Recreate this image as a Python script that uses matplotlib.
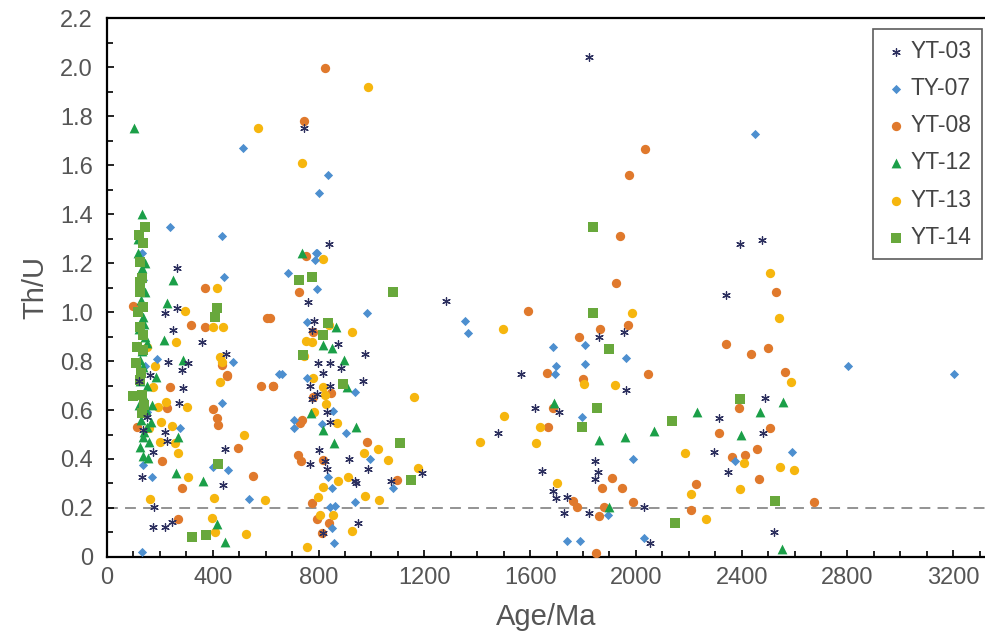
import numpy as np
import matplotlib
matplotlib.use("Agg")
import matplotlib.pyplot as plt
from matplotlib.ticker import MultipleLocator, FuncFormatter

plt.rcParams['font.family'] = ['Liberation Sans', 'DejaVu Sans']

# sample data: (age Ma, Th/U)
yt03_age = [1822, 1282, 1956, 1862, 1963, 1566, 1620, 1711, 1480, 1644, 1846, 1856, 1846, 1688, 1698,
            1739, 1729, 1821, 2031, 2054, 2489, 2316, 2480, 2294, 2350, 2524, 2395, 2477, 2342,
            759, 784, 774, 873, 976, 797, 844, 815, 885, 967, 768, 844, 793, 777, 831, 844, 803,
            768, 825, 831, 916, 986, 938, 942, 1073, 1190, 951, 815, 746, 841,
            264, 219, 264, 248, 358, 230, 283, 308, 450, 163, 122, 286, 273, 150, 135, 219, 226,
            173, 446, 131, 440, 179, 175, 219, 245]
yt03_thu = [2.04, 1.046, 0.92, 0.90, 0.68, 0.745, 0.61, 0.59, 0.505, 0.35, 0.39, 0.345, 0.317, 0.27, 0.24,
            0.246, 0.18, 0.18, 0.205, 0.056, 0.65, 0.566, 0.505, 0.43, 0.348, 0.10, 1.276, 1.294, 1.07,
            1.04, 0.965, 0.927, 0.87, 0.83, 0.79, 0.79, 0.75, 0.77, 0.72, 0.70, 0.70, 0.665, 0.645, 0.59, 0.55, 0.437,
            0.378, 0.39, 0.36, 0.40, 0.36, 0.31, 0.30, 0.31, 0.344, 0.137, 0.097, 1.75, 1.278,
            1.18, 0.995, 1.015, 0.927, 0.876, 0.797, 0.763, 0.793, 0.827, 0.743, 0.718, 0.69, 0.63, 0.573, 0.52, 0.51, 0.475,
            0.43, 0.44, 0.325, 0.294, 0.203, 0.121, 0.121, 0.144]

ty07_age = [2451, 514, 3204, 2803, 2591, 835, 802, 436, 238, 791, 444, 131, 188, 476, 131, 651, 434, 150,
            276, 135, 169, 457, 402, 538, 131, 684, 793, 787, 793, 985, 758, 661, 758, 938, 856, 707, 707,
            812, 903, 995, 837, 850, 1081, 938, 862, 844, 850, 860, 1354, 1367, 1686, 1699, 1695, 1806,
            1809, 1963, 1796, 1989, 1894, 1739, 1789, 2031, 2376, 138, 145]
ty07_thu = [1.727, 1.67, 0.747, 0.78, 0.43, 1.56, 1.487, 1.31, 1.346, 1.24, 1.144, 1.24, 0.808, 0.795, 1.08, 0.745, 0.63, 0.593,
            0.525, 0.375, 0.325, 0.355, 0.368, 0.237, 0.019, 1.158, 1.242, 1.212, 1.093, 0.995, 0.96, 0.747, 0.729, 0.675, 0.596, 0.559, 0.525,
            0.543, 0.505, 0.399, 0.328, 0.28, 0.283, 0.226, 0.208, 0.203, 0.12, 0.056, 0.964, 0.913, 0.856, 0.78, 0.745, 0.864,
            0.786, 0.813, 0.57, 0.40, 0.171, 0.065, 0.065, 0.079, 0.39, 1.13, 0.78]

yt08_age = [825, 746, 2033, 1975, 1938, 1924, 1592, 1865, 1970, 1783, 1663, 1800, 2044, 1686, 1669, 1911,
            1871, 1949, 1989, 1761, 1779, 1878, 1859, 1849, 2531, 2341, 2435, 2498, 2562, 2391, 2508, 2315,
            2458, 2363, 2414, 2464, 2228, 2209, 2672, 726, 617, 753, 780, 627, 847, 780, 739, 730, 982, 724,
            734, 818, 1096, 774, 793, 841, 812, 100, 371, 317, 371, 604, 434, 453, 238, 583, 626, 226, 400,
            415, 421, 494, 207, 554, 283, 267, 453, 112]
yt08_thu = [1.995, 1.78, 1.664, 1.56, 1.31, 1.117, 1.004, 0.93, 0.947, 0.90, 0.75, 0.725, 0.746, 0.607, 0.53, 0.324,
            0.28, 0.283, 0.226, 0.229, 0.205, 0.205, 0.167, 0.015, 1.08, 0.87, 0.827, 0.854, 0.756, 0.61, 0.525, 0.507,
            0.44, 0.407, 0.416, 0.317, 0.298, 0.192, 0.226, 1.08, 0.974, 1.228, 0.92, 0.70, 0.668, 0.654, 0.559, 0.546, 0.47, 0.416,
            0.39, 0.396, 0.314, 0.219, 0.154, 0.14, 0.097, 1.024, 1.10, 0.947, 0.94, 0.977, 0.784, 0.739, 0.693, 0.70, 0.70, 0.61, 0.603,
            0.566, 0.539, 0.446, 0.392, 0.33, 0.28, 0.155, 0.743, 0.532]

yt12_age = [103, 131, 116, 248, 226, 217, 286, 135, 150, 185, 135, 267, 135, 156, 261, 362, 417, 447,
            736, 866, 818, 850, 896, 907, 942, 816, 860, 771, 1692, 1859, 1957, 2067, 1899, 2231, 2468,
            2555, 2398, 2552,
            131, 144, 125, 137, 120, 140, 128, 145, 118, 132, 126, 150, 138, 122, 146, 130, 152, 140,
            160, 125, 165, 143, 118, 170]
yt12_thu = [1.75, 1.40, 1.24, 1.13, 1.035, 0.886, 0.804, 0.98, 0.875, 0.736, 0.491, 0.491, 0.412, 0.403, 0.341, 0.311, 0.135, 0.063,
            1.242, 0.938, 0.865, 0.854, 0.804, 0.693, 0.53, 0.518, 0.464, 0.587, 0.63, 0.478, 0.491, 0.514, 0.205, 0.593, 0.593,
            0.631, 0.498, 0.033,
            1.18, 1.083, 0.804, 0.777, 0.93, 0.95, 1.05, 0.90, 0.86, 0.84, 0.72, 0.70, 0.66, 0.62, 0.60, 0.56, 0.53, 0.51,
            0.47, 0.45, 0.55, 1.20, 1.30, 0.62]

yt13_age = [986, 572, 736, 1987, 1499, 1802, 1922, 1503, 1638, 1409, 1623, 1701, 2508, 2542, 2586, 2186,
            2407, 2546, 2596, 2395, 2209, 2265, 816, 841, 928, 753, 774, 746, 780, 818, 825, 828, 784, 869,
            1161, 972, 1024, 1061, 1175, 875, 910, 818, 976, 1029, 799, 806, 856, 926, 755, 415, 295, 402,
            440, 260, 150, 427, 434, 182, 175, 194, 223, 301, 204, 247, 160, 200, 257, 270, 305, 519, 163,
            405, 598, 398, 409, 525, 427]
yt13_thu = [1.92, 1.75, 1.61, 0.995, 0.93, 0.708, 0.702, 0.576, 0.532, 0.468, 0.467, 0.30, 1.158, 0.974, 0.716, 0.423,
            0.385, 0.366, 0.355, 0.276, 0.257, 0.155, 1.215, 0.947, 0.92, 0.883, 0.879, 0.82, 0.729, 0.695, 0.661, 0.624, 0.593, 0.548,
            0.654, 0.423, 0.44, 0.396, 0.364, 0.311, 0.328, 0.287, 0.25, 0.233, 0.246, 0.171, 0.171, 0.106, 0.042, 1.10, 1.004, 0.938,
            0.938, 0.876, 0.858, 0.817, 0.797, 0.78, 0.695, 0.613, 0.634, 0.613, 0.552, 0.535, 0.525, 0.47, 0.466, 0.426, 0.325, 0.50, 0.237,
            0.24, 0.233, 0.158, 0.10, 0.093, 0.716]

yt14_age = [1837, 1836, 1899, 1852, 1796, 2138, 2395, 2527, 2149, 726, 774, 1081, 837, 818, 743, 894,
            1108, 1149, 320, 373, 421, 97, 415, 409,
            144, 122, 137, 125, 131, 125, 125, 137, 125, 137, 112, 137, 110, 125, 131, 131, 140, 118, 128]
yt14_thu = [1.346, 0.995, 0.848, 0.607, 0.532, 0.556, 0.645, 0.229, 0.137, 1.13, 1.144, 1.08, 0.956, 0.906, 0.824, 0.706,
            0.467, 0.314, 0.083, 0.09, 0.38, 0.657, 1.015, 0.98,
            1.348, 1.314, 1.28, 1.205, 1.137, 1.124, 1.083, 1.022, 0.94, 0.906, 0.858, 0.845, 0.79, 0.722, 0.66, 0.586, 0.62, 1.0, 0.75]

fig = plt.figure(figsize=(9.85, 6.37), dpi=100)
ax = fig.add_axes([0.1086, 0.1256, 0.8914, 0.8461])

ax.scatter(yt03_age, yt03_thu, marker=(6, 2, 0), s=30, c='#2c2f5e', linewidths=0.9, label='YT-03', zorder=6)
ax.scatter(ty07_age, ty07_thu, marker='D', s=22, c='#4d8fcf', linewidths=0, label='TY-07', zorder=4)
ax.scatter(yt08_age, yt08_thu, marker='o', s=45, c='#e0792c', linewidths=0, label='YT-08', zorder=3)
ax.scatter(yt12_age, yt12_thu, marker='^', s=50, c='#1b9f48', linewidths=0, label='YT-12', zorder=5)
ax.scatter(yt13_age, yt13_thu, marker='o', s=45, c='#f6b60e', linewidths=0, label='YT-13', zorder=3)
ax.scatter(yt14_age, yt14_thu, marker='s', s=45, c='#68a83c', linewidths=0, label='YT-14', zorder=5)

ax.axhline(0.2, color='#8a8a8a', linestyle=(0, (6, 4)), linewidth=1.3, zorder=1)

ax.set_xlim(0, 3320)
ax.set_ylim(0, 2.2)
ax.xaxis.set_major_locator(MultipleLocator(400))
ax.xaxis.set_minor_locator(MultipleLocator(100))
ax.yaxis.set_major_locator(MultipleLocator(0.2))
ax.yaxis.set_minor_locator(MultipleLocator(0.1))
ax.yaxis.set_major_formatter(FuncFormatter(lambda v, p: '0' if abs(v) < 1e-9 else '%.1f' % v))
ax.tick_params(which='both', direction='in', width=1.2, colors='black', labelcolor='#555555',
               labelsize=17, top=False, right=False)
ax.tick_params(which='major', length=5)
ax.tick_params(which='minor', length=4)
ax.tick_params(axis='x', pad=7)
ax.tick_params(axis='y', pad=10)

for side in ['left', 'bottom', 'top']:
    ax.spines[side].set_linewidth(1.6)
ax.spines['right'].set_visible(False)

ax.set_xlabel('Age/Ma', fontsize=21, color='#555555', labelpad=10)
ax.set_ylabel('Th/U', fontsize=21, color='#555555', labelpad=8)

leg = ax.legend(loc='upper right', bbox_to_anchor=(0.999, 0.983), fontsize=16.5, frameon=True, fancybox=False,
                edgecolor='#333333', labelspacing=0.62, handletextpad=0.1, borderpad=0.45,
                markerscale=1.0, handlelength=1.1, borderaxespad=0.1)
leg.get_frame().set_linewidth(1.2)
for t in leg.get_texts():
    t.set_color('#444444')

fig.savefig('out.png', dpi=100, facecolor='white')
